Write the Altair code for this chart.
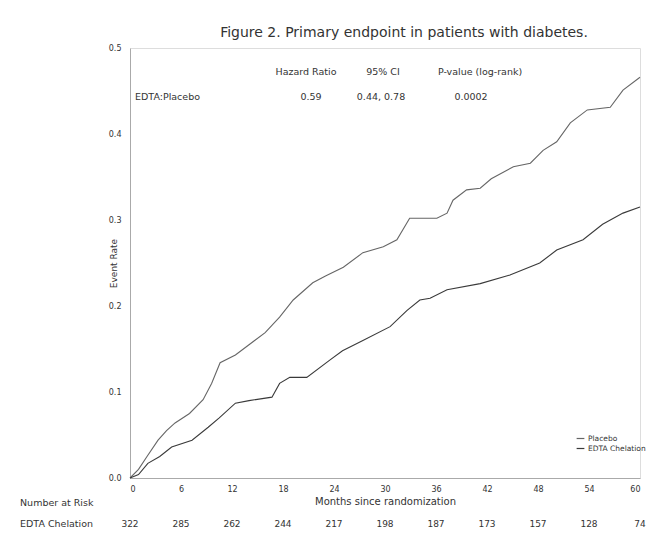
import altair as alt
import pandas as pd

# ---- data ----
placebo_month = [0, 1, 2, 3.3, 4.3, 5.3, 7, 8.6, 9.6, 10.6, 12.4, 14, 15.9, 17.6, 19.2, 21.5,
                 23, 25.1, 27.4, 29.8, 31.4, 32.9, 36.1, 37.3, 38, 39.6, 41.2, 42.5, 45.1,
                 47.1, 48.6, 50.2, 51.8, 53.8, 56.5, 58, 60]
placebo_rate = [0, 0.01, 0.025, 0.044, 0.055, 0.064, 0.075, 0.091, 0.11, 0.134, 0.143, 0.155,
                0.169, 0.187, 0.207, 0.227, 0.235, 0.245, 0.262, 0.269, 0.277, 0.302, 0.302,
                0.308, 0.323, 0.335, 0.337, 0.348, 0.362, 0.366, 0.381, 0.391, 0.413, 0.428,
                0.431, 0.451, 0.466]

edta_month = [0, 1, 2.1, 3.5, 4.9, 7.3, 9.2, 10.5, 12.4, 14, 16.7, 17.6, 18.8, 20.8, 23.5,
              25, 27.4, 30.6, 32.6, 34.1, 35.3, 37.3, 41.2, 44.7, 48.2, 50.2, 53.3, 55.6, 58, 60]
edta_rate = [0, 0.004, 0.017, 0.025, 0.036, 0.044, 0.059, 0.07, 0.087, 0.09, 0.094, 0.110,
             0.117, 0.117, 0.137, 0.148, 0.160, 0.176, 0.195, 0.207, 0.209, 0.219, 0.226,
             0.236, 0.25, 0.265, 0.277, 0.295, 0.308, 0.315]

series_names = ["Placebo", "EDTA Chelation"]

risk_months = [0, 6, 12, 18, 24, 30, 36, 42, 48, 54, 60]
risk_edta = [322, 285, 262, 244, 217, 198, 187, 173, 157, 128, 74]

title_text = "Figure 2.  Primary endpoint in patients with diabetes."
table_header = ["Hazard Ratio", "95% CI", "P-value (log-rank)"]
table_row_label = "EDTA:Placebo"
table_values = ["0.59", "0.44, 0.78", "0.0002"]
risk_header = "Number at Risk"
risk_row_label = "EDTA Chelation"

FONT = "DejaVu Sans"
TXT = "#333333"

curves = pd.concat([
    pd.DataFrame({"month": placebo_month, "rate": placebo_rate, "group": series_names[0]}),
    pd.DataFrame({"month": edta_month, "rate": edta_rate, "group": series_names[1]}),
])

xscale = alt.Scale(domain=[0, 60], nice=False)
yscale = alt.Scale(domain=[0, 0.5], nice=False)

lines = alt.Chart(curves).mark_line(strokeWidth=1.1).encode(
    x=alt.X("month:Q", scale=xscale,
            axis=alt.Axis(values=list(range(0, 61, 6)), title="Months since randomization",
                          labelFontSize=8, titleFontSize=10, titleFontWeight="normal",
                          labelColor=TXT, titleColor=TXT, ticks=False, labelPadding=7,
                          titlePadding=3, domainColor="#aaaaaa", grid=False,
                          labelFont=FONT, titleFont=FONT)),
    y=alt.Y("rate:Q", scale=yscale,
            axis=alt.Axis(values=[0, 0.1, 0.2, 0.3, 0.4, 0.5], format=".1f", title="Event Rate",
                          labelFontSize=8, titleFontSize=9, titleFontWeight="normal",
                          labelColor=TXT, titleColor=TXT, ticks=False, labelPadding=9,
                          domainColor="#aaaaaa", grid=False, titleX=-12, titleY=215,
                          labelFont=FONT, titleFont=FONT)),
    color=alt.Color("group:N", scale=alt.Scale(domain=series_names, range=["#666666", "#3a3a3a"]),
                    legend=alt.Legend(orient="none", legendX=446, legendY=386, title=None,
                                      symbolType="stroke", symbolSize=60, symbolStrokeWidth=1.2,
                                      labelFontSize=7.5, labelColor=TXT, labelFont=FONT,
                                      rowPadding=2, labelOffset=3)),
)

def txt(s, x, y, size=9, align="center", weight="normal"):
    return alt.Chart(pd.DataFrame({"t": [s]})).mark_text(
        font=FONT, fontSize=size, color=TXT, align=align, baseline="middle", fontWeight=weight
    ).encode(text="t:N", x=alt.value(x), y=alt.value(y))

layers = [lines]
layers.append(txt(title_text, 274, -15, size=14))
hx = [176, 253, 350]
for h, xv in zip(table_header, hx):
    layers.append(txt(h, xv, 24, size=9.5))
layers.append(txt(table_row_label, 5, 49, size=9.5, align="left"))
vx = [181, 251, 341]
for v, xv in zip(table_values, vx):
    layers.append(txt(v, xv, 49, size=9.5))
layers.append(txt(risk_header, -110, 25 + 430, size=9.5, align="left"))
layers.append(txt(risk_row_label, -110, 46 + 430, size=9.5, align="left"))

risk_df = pd.DataFrame({"month": risk_months, "n": [str(v) for v in risk_edta]})
risk = alt.Chart(risk_df).mark_text(font=FONT, fontSize=9, color=TXT, baseline="middle").encode(
    x=alt.X("month:Q", scale=xscale), y=alt.value(476), text="n:N")
layers.append(risk)

chart = alt.layer(*layers).properties(
    width=510, height=430,
    autosize=alt.AutoSizeParams(type="none"),
    padding={"left": 122, "top": 40, "right": 11, "bottom": 52},
).configure_view(stroke="#c8c8c8", strokeWidth=1).configure(background="white")

chart.save("out.html", embed_options={"renderer": "svg", "actions": False})
